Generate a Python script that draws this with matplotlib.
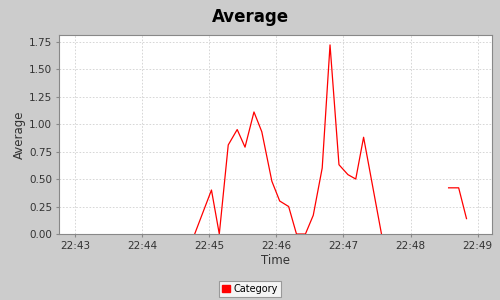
import numpy as np
import matplotlib.pyplot as plt
import matplotlib.dates as mdates
from matplotlib.patches import Patch
from datetime import datetime

times = ['22:44:47', '22:45:02', '22:45:09', '22:45:17', '22:45:25', '22:45:32',
         '22:45:40', '22:45:47', '22:45:56', '22:46:03', '22:46:11', '22:46:18',
         '22:46:26', '22:46:33', '22:46:41', '22:46:48', '22:46:56', '22:47:04',
         '22:47:11', '22:47:18', '22:47:34', '22:48:00', '22:48:34', '22:48:43',
         '22:48:50']
values = [0.0, 0.40, 0.0, 0.81, 0.95, 0.79,
          1.11, 0.93, 0.48, 0.30, 0.25, 0.0,
          0.0, 0.17, 0.60, 1.72, 0.63, 0.54,
          0.50, 0.88, 0.0, np.nan, 0.42, 0.42,
          0.14]

x = [datetime.strptime('2000-01-01 ' + t, '%Y-%m-%d %H:%M:%S') for t in times]
bg = '#cccccc'

fig = plt.figure(figsize=(5, 3), dpi=100, facecolor=bg)
ax = fig.add_axes([0.118, 0.22, 0.866, 0.6633])
ax.set_facecolor('white')
ax.plot(x, values, color='#ff0000', lw=0.9)

ax.set_xlim(datetime(2000, 1, 1, 22, 42, 45, 700000), datetime(2000, 1, 1, 22, 49, 12, 800000))
ax.set_ylim(0, 1.81)
ax.set_yticks(np.arange(0, 1.76, 0.25))
ax.yaxis.set_major_formatter(plt.FormatStrFormatter('%.2f'))
ax.xaxis.set_major_locator(mdates.MinuteLocator())
ax.xaxis.set_major_formatter(mdates.DateFormatter('%H:%M'))

ax.grid(True, color='#d0d0d0', ls=(0, (2, 2)), lw=0.6)
for s in ax.spines.values():
    s.set_color('#888888')
    s.set_linewidth(0.8)
ax.tick_params(colors='#888888', labelcolor='#333333', labelsize=7.5, length=2, width=0.8, pad=3)

ax.set_xlabel('Time', fontsize=8.5, color='#333333', labelpad=2)
ax.set_ylabel('Average', fontsize=8.5, color='#333333', labelpad=2)
fig.text(0.5, 0.943, 'Average', ha='center', va='center', fontsize=12, fontweight='bold')

leg = fig.legend(handles=[Patch(facecolor='#ff0000', edgecolor='#ff0000', label='Category')],
                 loc='center', bbox_to_anchor=(0.5, 0.037), fontsize=7, frameon=True,
                 fancybox=False, handlelength=0.8, handleheight=0.8, handletextpad=0.4,
                 borderpad=0.3, borderaxespad=0)
leg.get_frame().set_edgecolor('#888888')
leg.get_frame().set_linewidth(0.8)

fig.savefig('out.png', dpi=100, facecolor=bg)
